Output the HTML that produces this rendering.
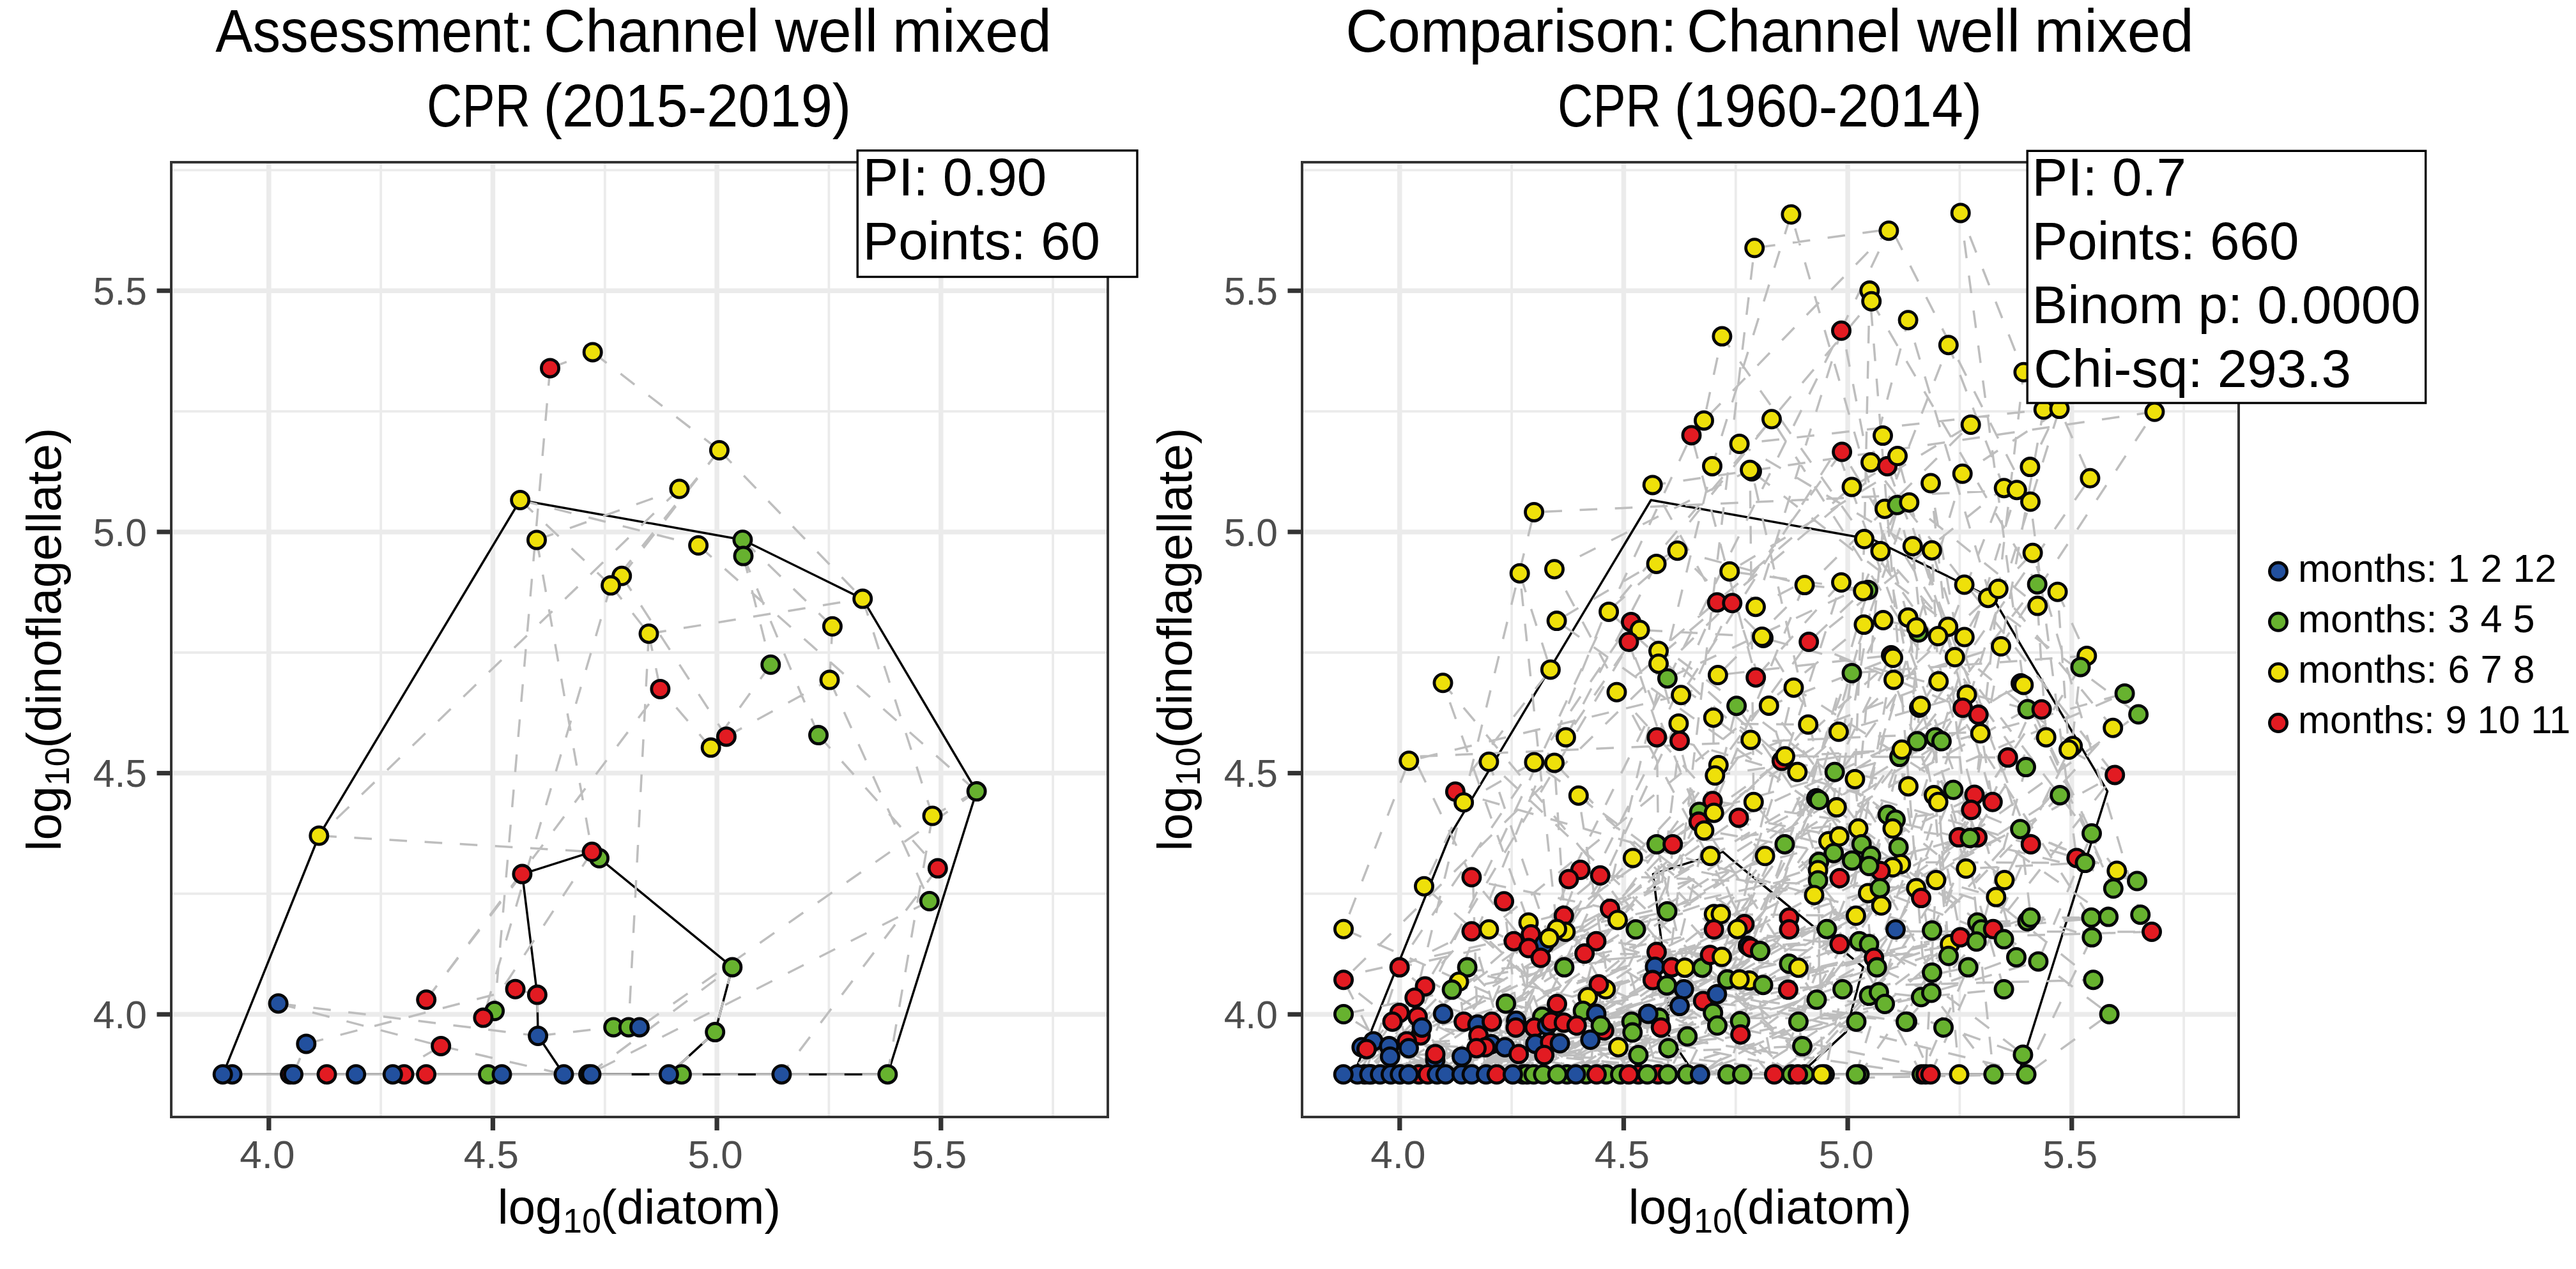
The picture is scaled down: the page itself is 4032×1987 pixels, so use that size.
<!DOCTYPE html>
<html><head><meta charset="utf-8"><title>Channel well mixed</title>
<style>html,body{margin:0;padding:0;background:#fff;} svg{display:block;} text{font-family:"Liberation Sans", sans-serif;}</style>
</head><body>
<svg width="4032" height="1987" viewBox="0 0 4032 1987">
<rect x="0" y="0" width="4032" height="1987" fill="#ffffff"/>
<g>
<line x1="596.12" y1="256" x2="596.12" y2="1747" stroke="#ebebeb" stroke-width="3.8"/>
<line x1="946.77" y1="256" x2="946.77" y2="1747" stroke="#ebebeb" stroke-width="3.8"/>
<line x1="1297.42" y1="256" x2="1297.42" y2="1747" stroke="#ebebeb" stroke-width="3.8"/>
<line x1="1648.07" y1="256" x2="1648.07" y2="1747" stroke="#ebebeb" stroke-width="3.8"/>
<line x1="270" y1="1399.45" x2="1732" y2="1399.45" stroke="#ebebeb" stroke-width="3.8"/>
<line x1="270" y1="1021.75" x2="1732" y2="1021.75" stroke="#ebebeb" stroke-width="3.8"/>
<line x1="270" y1="644.05" x2="1732" y2="644.05" stroke="#ebebeb" stroke-width="3.8"/>
<line x1="270" y1="266.35" x2="1732" y2="266.35" stroke="#ebebeb" stroke-width="3.8"/>
<line x1="420.80" y1="256" x2="420.80" y2="1747" stroke="#ebebeb" stroke-width="7.5"/>
<line x1="771.45" y1="256" x2="771.45" y2="1747" stroke="#ebebeb" stroke-width="7.5"/>
<line x1="1122.10" y1="256" x2="1122.10" y2="1747" stroke="#ebebeb" stroke-width="7.5"/>
<line x1="1472.75" y1="256" x2="1472.75" y2="1747" stroke="#ebebeb" stroke-width="7.5"/>
<line x1="270" y1="1588.30" x2="1732" y2="1588.30" stroke="#ebebeb" stroke-width="7.5"/>
<line x1="270" y1="1210.60" x2="1732" y2="1210.60" stroke="#ebebeb" stroke-width="7.5"/>
<line x1="270" y1="832.90" x2="1732" y2="832.90" stroke="#ebebeb" stroke-width="7.5"/>
<line x1="270" y1="455.20" x2="1732" y2="455.20" stroke="#ebebeb" stroke-width="7.5"/>
</g>
<polygon points="349.0,1682.2 499.3,1308.5 814.2,783.0 1162.4,845.2 1350.2,937.6 1528.6,1239.1 1389.3,1682.2" fill="none" stroke="#000000" stroke-width="3.5" stroke-linejoin="round"/>
<polygon points="882.5,1682.2 842.1,1622.0 840.9,1557.6 817.4,1368.6 926.6,1333.8 938.0,1343.8 1146.3,1514.4 1119.2,1616.1 1046.9,1682.2" fill="none" stroke="#000000" stroke-width="3.5" stroke-linejoin="round"/>
<path d="M861.0 576.4L927.7 551.4M927.7 551.4L1125.9 705.0M861.0 576.4L774.1 1583.0M814.2 783.0L1093.1 854.0M840.0 845.4L1063.4 765.5M1063.4 765.5L499.3 1308.5M1125.9 705.0L956.1 916.6M499.3 1308.5L926.6 1333.8M1093.1 854.0L1528.6 1239.1M1163.5 870.6L1206.3 1040.8M1015.5 992.2L1350.2 937.6M956.1 916.6L1015.5 992.2M1015.5 992.2L1033.4 1078.9M1125.9 705.0L1350.2 937.6M973.2 901.8L1125.9 705.0M435.6 1571.2L842.1 1622.0M479.3 1634.4L806.6 1548.7M667.2 1565.3L1033.4 1078.9M926.6 1333.8L756.4 1593.6M840.0 845.4L926.6 1333.8M956.1 916.6L756.4 1593.6M1015.5 992.2L983.9 1608.4M973.2 901.8L1136.9 1153.4M842.1 1622.0L960.2 1608.4M690.2 1637.9L882.5 1682.2M921.0 1682.2L1146.3 1514.4M459.0 1682.2L479.3 1634.4M614.8 1682.2L690.2 1637.9M1136.9 1153.4L1298.5 1064.6M1281.0 1151.1L1467.8 1359.6M1528.6 1239.1L1459.5 1277.5M1163.5 870.6L1281.0 1151.1M1162.4 845.2L1302.9 980.8M1302.9 980.8L1298.5 1064.6M1206.3 1040.8L1112.7 1170.6M1112.7 1170.6L1033.4 1078.9M1459.5 1277.5L1389.3 1682.2M1467.8 1359.6L1223.4 1682.2M1528.6 1239.1L1001.0 1608.4M1454.8 1411.0L921.0 1682.2M814.2 783.0L956.1 916.6M960.2 1608.4L983.9 1608.4M983.9 1608.4L1001.0 1608.4M806.6 1548.7L840.9 1557.6M840.9 1557.6L842.1 1622.0M1146.3 1514.4L1119.2 1616.1M1119.2 1616.1L1046.9 1682.2M774.1 1583.0L756.4 1593.6M817.4 1368.6L667.2 1565.3M1350.2 937.6L1459.5 1277.5M1298.5 1064.6L1454.8 1411.0M435.6 1571.2L690.2 1637.9" fill="none" stroke="#bebebe" stroke-width="3.5" stroke-dasharray="27.6 27.6"/>
<path d="M349 1682.2L988.7 1682.2" fill="none" stroke="#bebebe" stroke-width="3.5"/>
<path d="M1016.5 1682.2L1389.3 1682.2" fill="none" stroke="#bebebe" stroke-width="3.5" stroke-dasharray="27.75 27.75"/>
<g stroke="#050608" stroke-width="4.8">
<circle cx="861.0" cy="576.4" r="13.6" fill="#e21b22"/>
<circle cx="927.7" cy="551.4" r="13.6" fill="#eee00a"/>
<circle cx="1125.9" cy="705.0" r="13.6" fill="#eee00a"/>
<circle cx="1063.4" cy="765.5" r="13.6" fill="#eee00a"/>
<circle cx="814.2" cy="783.0" r="13.6" fill="#eee00a"/>
<circle cx="840.0" cy="845.4" r="13.6" fill="#eee00a"/>
<circle cx="1093.1" cy="854.0" r="13.6" fill="#eee00a"/>
<circle cx="1162.4" cy="845.2" r="13.6" fill="#67b22f"/>
<circle cx="1163.5" cy="870.6" r="13.6" fill="#67b22f"/>
<circle cx="973.2" cy="901.8" r="13.6" fill="#eee00a"/>
<circle cx="956.1" cy="916.6" r="13.6" fill="#eee00a"/>
<circle cx="1350.2" cy="937.6" r="13.6" fill="#eee00a"/>
<circle cx="1302.9" cy="980.8" r="13.6" fill="#eee00a"/>
<circle cx="1015.5" cy="992.2" r="13.6" fill="#eee00a"/>
<circle cx="1206.3" cy="1040.8" r="13.6" fill="#67b22f"/>
<circle cx="1298.5" cy="1064.6" r="13.6" fill="#eee00a"/>
<circle cx="1033.4" cy="1078.9" r="13.6" fill="#e21b22"/>
<circle cx="1136.9" cy="1153.4" r="13.6" fill="#e21b22"/>
<circle cx="1112.7" cy="1170.6" r="13.6" fill="#eee00a"/>
<circle cx="1281.0" cy="1151.1" r="13.6" fill="#67b22f"/>
<circle cx="1528.6" cy="1239.1" r="13.6" fill="#67b22f"/>
<circle cx="1459.5" cy="1277.5" r="13.6" fill="#eee00a"/>
<circle cx="499.3" cy="1308.5" r="13.6" fill="#eee00a"/>
<circle cx="938.0" cy="1343.8" r="13.6" fill="#67b22f"/>
<circle cx="926.6" cy="1333.8" r="13.6" fill="#e21b22"/>
<circle cx="817.4" cy="1368.6" r="13.6" fill="#e21b22"/>
<circle cx="1467.8" cy="1359.6" r="13.6" fill="#e21b22"/>
<circle cx="1454.8" cy="1411.0" r="13.6" fill="#67b22f"/>
<circle cx="1146.3" cy="1514.4" r="13.6" fill="#67b22f"/>
<circle cx="435.6" cy="1571.2" r="13.6" fill="#22509e"/>
<circle cx="667.2" cy="1565.3" r="13.6" fill="#e21b22"/>
<circle cx="806.6" cy="1548.7" r="13.6" fill="#e21b22"/>
<circle cx="840.9" cy="1557.6" r="13.6" fill="#e21b22"/>
<circle cx="774.1" cy="1583.0" r="13.6" fill="#67b22f"/>
<circle cx="756.4" cy="1593.6" r="13.6" fill="#e21b22"/>
<circle cx="479.3" cy="1634.4" r="13.6" fill="#22509e"/>
<circle cx="690.2" cy="1637.9" r="13.6" fill="#e21b22"/>
<circle cx="842.1" cy="1622.0" r="13.6" fill="#22509e"/>
<circle cx="960.2" cy="1608.4" r="13.6" fill="#67b22f"/>
<circle cx="983.9" cy="1608.4" r="13.6" fill="#67b22f"/>
<circle cx="1001.0" cy="1608.4" r="13.6" fill="#22509e"/>
<circle cx="1119.2" cy="1616.1" r="13.6" fill="#67b22f"/>
<circle cx="363.5" cy="1682.2" r="13.6" fill="#22509e"/>
<circle cx="348.7" cy="1682.2" r="13.6" fill="#22509e"/>
<circle cx="454.0" cy="1682.2" r="13.6" fill="#e21b22"/>
<circle cx="459.0" cy="1682.2" r="13.6" fill="#22509e"/>
<circle cx="511.5" cy="1682.2" r="13.6" fill="#e21b22"/>
<circle cx="557.2" cy="1682.2" r="13.6" fill="#22509e"/>
<circle cx="632.5" cy="1682.2" r="13.6" fill="#e21b22"/>
<circle cx="614.8" cy="1682.2" r="13.6" fill="#22509e"/>
<circle cx="667.1" cy="1682.2" r="13.6" fill="#e21b22"/>
<circle cx="764.1" cy="1682.2" r="13.6" fill="#67b22f"/>
<circle cx="785.5" cy="1682.2" r="13.6" fill="#22509e"/>
<circle cx="882.5" cy="1682.2" r="13.6" fill="#22509e"/>
<circle cx="921.0" cy="1682.2" r="13.6" fill="#22509e"/>
<circle cx="925.5" cy="1682.2" r="13.6" fill="#22509e"/>
<circle cx="1067.0" cy="1682.2" r="13.6" fill="#67b22f"/>
<circle cx="1046.9" cy="1682.2" r="13.6" fill="#22509e"/>
<circle cx="1223.4" cy="1682.2" r="13.6" fill="#22509e"/>
<circle cx="1389.3" cy="1682.2" r="13.6" fill="#67b22f"/>
</g>
<rect x="268" y="254" width="1466" height="1495" fill="none" stroke="#333333" stroke-width="4"/>
<line x1="420.80" y1="1751" x2="420.80" y2="1770" stroke="#333333" stroke-width="7.3"/>
<text x="418.30" y="1828.7"  font-size="62" fill="#4d4d4d" text-anchor="middle">4.0</text>
<line x1="771.45" y1="1751" x2="771.45" y2="1770" stroke="#333333" stroke-width="7.3"/>
<text x="768.95" y="1828.7"  font-size="62" fill="#4d4d4d" text-anchor="middle">4.5</text>
<line x1="1122.10" y1="1751" x2="1122.10" y2="1770" stroke="#333333" stroke-width="7.3"/>
<text x="1119.60" y="1828.7"  font-size="62" fill="#4d4d4d" text-anchor="middle">5.0</text>
<line x1="1472.75" y1="1751" x2="1472.75" y2="1770" stroke="#333333" stroke-width="7.3"/>
<text x="1470.25" y="1828.7"  font-size="62" fill="#4d4d4d" text-anchor="middle">5.5</text>
<line x1="245.5" y1="1588.30" x2="266" y2="1588.30" stroke="#333333" stroke-width="7.1"/>
<text transform="translate(145.66,1609.90) scale(0.9770,1)"  font-size="62" fill="#4d4d4d" >4.0</text>
<line x1="245.5" y1="1210.60" x2="266" y2="1210.60" stroke="#333333" stroke-width="7.1"/>
<text transform="translate(145.85,1232.20) scale(0.9770,1)"  font-size="62" fill="#4d4d4d" >4.5</text>
<line x1="245.5" y1="832.90" x2="266" y2="832.90" stroke="#333333" stroke-width="7.1"/>
<text transform="translate(145.66,854.50) scale(0.9770,1)"  font-size="62" fill="#4d4d4d" >5.0</text>
<line x1="245.5" y1="455.20" x2="266" y2="455.20" stroke="#333333" stroke-width="7.1"/>
<text transform="translate(145.85,476.80) scale(0.9770,1)"  font-size="62" fill="#4d4d4d" >5.5</text>
<text x="778.80" y="1916.1"  font-size="76" fill="#000000">log</text>
<text x="880.90" y="1929.7"  font-size="54" fill="#000000">10</text>
<text transform="translate(939.73,1916.10) scale(1.0132,1)"  font-size="76" fill="#000000" >(diatom)</text>
<g transform="translate(94.7,1327.4) rotate(-90)">
<text x="-5.1" y="0"  font-size="76" fill="#000000">log</text>
<text x="97" y="13.4"  font-size="54" fill="#000000">10</text>
<text transform="translate(155.96,0.00) scale(1.0065,1)"  font-size="76" fill="#000000" >(dinoflagellate)</text>
</g>
<g>
<line x1="2366.12" y1="256" x2="2366.12" y2="1747" stroke="#ebebeb" stroke-width="3.8"/>
<line x1="2716.78" y1="256" x2="2716.78" y2="1747" stroke="#ebebeb" stroke-width="3.8"/>
<line x1="3067.43" y1="256" x2="3067.43" y2="1747" stroke="#ebebeb" stroke-width="3.8"/>
<line x1="3418.07" y1="256" x2="3418.07" y2="1747" stroke="#ebebeb" stroke-width="3.8"/>
<line x1="2040" y1="1399.45" x2="3502" y2="1399.45" stroke="#ebebeb" stroke-width="3.8"/>
<line x1="2040" y1="1021.75" x2="3502" y2="1021.75" stroke="#ebebeb" stroke-width="3.8"/>
<line x1="2040" y1="644.05" x2="3502" y2="644.05" stroke="#ebebeb" stroke-width="3.8"/>
<line x1="2040" y1="266.35" x2="3502" y2="266.35" stroke="#ebebeb" stroke-width="3.8"/>
<line x1="2190.80" y1="256" x2="2190.80" y2="1747" stroke="#ebebeb" stroke-width="7.5"/>
<line x1="2541.45" y1="256" x2="2541.45" y2="1747" stroke="#ebebeb" stroke-width="7.5"/>
<line x1="2892.10" y1="256" x2="2892.10" y2="1747" stroke="#ebebeb" stroke-width="7.5"/>
<line x1="3242.75" y1="256" x2="3242.75" y2="1747" stroke="#ebebeb" stroke-width="7.5"/>
<line x1="2040" y1="1588.30" x2="3502" y2="1588.30" stroke="#ebebeb" stroke-width="7.5"/>
<line x1="2040" y1="1210.60" x2="3502" y2="1210.60" stroke="#ebebeb" stroke-width="7.5"/>
<line x1="2040" y1="832.90" x2="3502" y2="832.90" stroke="#ebebeb" stroke-width="7.5"/>
<line x1="2040" y1="455.20" x2="3502" y2="455.20" stroke="#ebebeb" stroke-width="7.5"/>
</g>
<polygon points="2119.0,1682.2 2269.3,1308.5 2584.2,783.0 2932.4,845.2 3120.2,937.6 3298.6,1239.1 3159.3,1682.2" fill="none" stroke="#000000" stroke-width="3.5" stroke-linejoin="round"/>
<polygon points="2652.5,1682.2 2612.1,1622.0 2610.9,1557.6 2587.4,1368.6 2696.6,1333.8 2708.0,1343.8 2916.3,1514.4 2889.2,1616.1 2816.9,1682.2" fill="none" stroke="#000000" stroke-width="3.5" stroke-linejoin="round"/>
<path d="M2109.9 1682.3L2192.9 1675.1L2900.8 1605.3L2900.1 1595.0L2414.0 1592.0L2103.0 1454.7L2205.3 1191.3L2631.1 1088.3L2875.3 703.7L3095.1 1311.1L2190.8 1514.6L2136.4 1682.3L2096.0 1682.3L2104.8 1682.3L2400.5 1682.3L2505.6 1605.8L2658.7 1278.3L2596.0 1039.2L2596.0 1019.2L2898.5 762.4L2954.0 730.0L3178.7 1321.9L3021.7 1682.3L2985.0 1599.7L2628.1 1565.6L2687.3 1556.7L3042.0 1608.9L2973.1 1185.1L3325.6 1085.9L2987.0 1231.2L3372.4 644.8L2586.7 759.4L2687.7 943.2L2593.3 1154.4L2599.8 1608.9L2522.4 1682.3L2691.9 1554.5L2843.0 1250.0L2913.8 1321.9L3024.0 1522.9L2925.5 1478.3L2744.8 1255.8L2739.1 735.8L2433.0 891.2L2730.4 1447.0L2777.0 1682.3L2179.5 1599.7L2123.7 1682.3L2191.2 1682.3L2249.2 1682.3L2831.7 1689.1L3171.6 1682.3L3301.6 1588.0L2681.8 1123.7L2682.7 1272.7L2878.8 1309.6L2586.8 1534.6L2426.3 1632.0L2369.4 1473.7L2421.3 1682.3L2394.8 1682.3L2736.0 1481.0L2634.2 1688.5L3156.0 1498.9L2969.4 790.8L2947.0 682.1L3059.8 1029.0L3313.3 1363.5L3085.3 1268.1L2618.2 1321.9L2311.0 1641.2L2149.7 1630.4L2131.3 1639.7L2311.4 1682.3L2508.2 1688.9L2514.0 1682.3L2390.2 1682.3L2719.6 1454.7L2947.6 971.0L2999.6 982.5L2879.4 1375.0L2392.5 1484.5L2383.7 1682.3L2384.5 1682.3L2372.7 1682.3L2348.9 1682.3L2564.4 1652.0L2800.4 1509.0L3347.1 1118.5L3074.6 915.5L3111.8 936.2L2813.3 1208.8L2553.0 973.9L2190.1 1509.3L2504.5 1688.3L2540.6 1682.3L2410.3 1682.3L2678.8 1559.3L3172.3 1678.7L3274.3 1467.6L2870.2 1335.7L2667.4 1300.4L2826.3 909.6L2748.0 950.2L2882.0 517.8L2884.0 517.1L3069.4 1469.1L2685.0 1557.1L2349.1 1682.3L2435.4 1682.3L2937.8 1514.6L3022.9 1554.5L3120.3 1682.3L3022.0 756.5L3078.5 1087.7L2877.9 1145.8L2658.8 1286.6L2447.8 1433.8L2506.6 1539.5L2502.7 1583.7L2367.9 1682.3L2326.0 1682.3L2925.5 1356.0L3000.8 1160.6L3004.0 1108.0L2986.6 966.9L2803.4 335.8L2680.0 729.9L2467.8 1605.8L2334.9 1688.6L2372.5 1608.9L2325.0 1673.8L2837.3 1258.5L2745.2 1484.7L3050.0 1496.8L3029.0 1154.4L3038.9 1160.6L2684.3 1214.3L2627.4 1132.9L2830.2 1134.4L2782.8 1190.4L2480.1 1493.1L2676.6 1495.2L2498.5 1587.4L2488.4 1682.3L2498.6 1682.3L2596.7 1593.6L2298.3 1520.9L3350.2 1432.2L3181.6 865.8L3127.8 922.0L3307.2 1139.7L2814.1 1682.3L2502.5 1541.3L2427.8 1599.7L2421.7 1605.8L2332.5 1632.7L2376.4 1674.8L2415.4 1682.3L3178.6 1435.8L3162.1 1298.2L3023.8 861.7L3034.3 1066.8L2689.8 1198.0L2407.9 1501.6L2520.0 1423.0L2305.6 1378.5L2312.5 1606.6L2275.5 1682.3L2373.1 1598.2L3024.0 1457.0L3179.1 1112.3L2760.0 999.0L2625.6 862.2L2824.6 916.1L2916.2 925.5L2831.2 1005.0L2524.5 1425.0L2595.1 1682.3L2516.6 1682.3L2484.6 1682.3L2840.5 1251.4L2972.4 788.0L2916.6 918.3L2609.9 1062.2L2962.4 1297.3L2392.5 1444.5L2258.5 1069.3L2772.9 1685.6L3075.5 1460.8L2738.9 1485.4L2579.8 1587.4L2371.6 1682.3L2263.7 1682.3L2452.7 1682.3L2601.3 1587.6L2718.1 1105.2L2861.9 1317.3L2695.0 1498.3L2882.0 912.0L2748.2 1060.7L2647.5 681.4L2202.0 1630.4L2223.8 1682.3L2288.0 1654.4L2321.0 1676.1L3080.7 1514.6L3008.0 1682.3L2845.6 1378.4L2908.6 1297.3L2738.0 1535.2L2532.0 1440.5L2473.7 1362.0L2419.3 1506.2L2342.7 1682.3L2303.6 1682.3L2243.1 1682.3L2229.1 1682.3L2824.4 1682.3L2927.5 1562.6L3256.5 1044.4L3243.0 1165.9L3124.3 1404.6L3030.4 1378.0L3014.0 1682.3L2447.8 1601.2L2216.6 1682.7L2282.7 1682.3L2334.1 1635.0L2637.4 1551.2L3276.4 1534.2L2954.7 1275.8L2971.6 1326.5L2962.4 1358.0L2904.9 1433.8L2682.7 1431.3L2553.1 1681.8L2444.4 1603.7L2234.7 1682.3L2283.2 1658.8L2205.0 1641.2L2140.0 1627.8L2733.7 1682.7L2940.9 1553.6L3014.4 1561.6L2926.3 455.1L2918.0 844.0L2903.4 1219.9L2929.7 1495.6L2943.5 1364.0L2800.4 1436.8L2155.3 1636.3L2410.8 1632.1L2372.2 1682.3L3158.0 1298.1L3345.0 1379.5L2966.9 1286.6L2566.6 986.3L2758.0 997.0L2999.3 1390.7L2504.6 1370.8L2375.5 1476.8L2314.1 1621.2L2636.0 1579.1L2369.4 1673.1L2441.6 1633.5L2856.0 1682.3L2884.0 1549.0L2876.1 1547.0L2401.4 1193.4L2291.1 1256.4L2229.0 1387.7L2437.0 1572.0L2307.4 1451.1L2139.0 1642.7L2218.1 1608.5L2324.6 1682.3L2343.3 1634.7L2928.6 1340.3L2659.7 1271.2L2593.0 1321.9L2637.2 1515.2L2944.6 1417.8L2814.9 1515.2L2393.0 1456.6L2142.7 1674.5L2136.0 1682.3L2161.6 1682.3L2175.8 1654.4L2356.3 1643.4L2357.1 1571.4L2942.4 1390.7L2847.1 1252.8L2677.2 1340.3L2450.3 1459.0L2433.0 1194.4L2682.7 1455.3L2879.4 1478.3L2798.9 1549.6L2207.5 1682.3L2211.5 1682.3L2429.2 1682.3L3006.9 1561.3L3136.6 1549.0L3010.9 1107.3L3113.4 928.4L2986.6 501.2L2928.0 724.0L3309.9 1213.4L3119.7 1454.7L2131.8 1681.4L2172.5 1650.6L2237.9 1682.3L2635.7 1549.0L2950.1 1572.0L3095.1 1444.5L3300.1 1435.6L3027.0 1245.1L3066.5 1682.3L2485.3 1561.3L2593.0 1490.6L2508.5 1375.2L2324.9 1639.7L2287.3 1682.3L2273.6 1682.3L2182.2 1635.5L2723.6 1599.1L3173.5 1442.4L3136.6 1470.6L2436.6 972.1L2631.1 857.1L2512.3 960.8L2220.7 1682.3L2246.5 1650.4L2223.5 1621.2L2160.1 1682.3L2328.3 1677.9L2696.2 1547.3L2949.7 1396.6L2843.5 1565.3L2654.9 1274.1L3099.7 1148.3L3097.5 1146.2L2212.1 1184.8L2303.4 1373.5L2553.7 1678.8L2510.8 1613.5L2221.2 1682.3L2247.3 1682.3L2174.3 1638.1L2560.4 1455.3L2803.9 1682.3L2905.1 1682.3L3033.7 1255.8L2964.0 1064.4L3132.0 1012.0L3195.6 1110.8L3194.5 1110.4L2933.2 1499.8L2489.3 1628.0L2414.0 1605.2L2252.2 1682.3L2103.0 1588.0L2448.4 1514.6L2859.4 1454.7L3071.7 741.8L3218.8 645.5L3177.4 731.1L2832.0 1007.7L3072.1 1108.3L3099.9 1123.3L2225.5 1682.3L2238.1 1682.3L2255.8 1650.0L2569.4 1658.4L2727.0 1682.3L2910.5 1682.3L3052.1 1478.3L2768.8 1104.9L2963.0 1030.0L2886.4 1479.4L2713.3 937.9L2103.0 1534.2L2176.9 1682.3L2143.4 1682.3L2249.5 1660.9L2821.0 1638.1L2703.6 1533.6L2755.0 1489.1L2533.0 1639.7L2470.8 1245.7L2693.5 1431.3L2382.6 1677.2L2190.6 1514.6L2303.4 1458.3L2355.6 1639.7L2330.8 1682.3L2533.0 1682.3L2536.0 1682.3L3224.2 1245.1L2804.9 1679.3L2437.0 1454.7L2378.7 897.7L2426.9 1048.4L2277.9 1239.5L3068.4 1467.6L3368.0 1459.0L2966.3 1458.3L2967.0 1455.3L2660.9 1682.3L2814.9 1599.7L2975.2 1322.7L3003.0 990.3L2917.4 978.1L2330.4 1455.3L2513.3 1549.0L2616.6 1514.6L2335.0 1599.7L2214.2 1562.2L2454.7 1682.3L2476.7 1682.3L2627.2 1540.8L2688.0 1605.8L2759.6 1542.2L2681.2 1585.9L2762.6 1340.3L2530.5 1083.7L2970.0 714.0L3118.8 1255.8L3096.7 1119.1L3075.7 1101.4L2106.5 1682.3L2283.9 1682.3L2262.6 1682.3L2553.7 1599.7L2910.1 1473.7L2838.7 1565.9L2975.3 1353.0L3156.8 767.2L2401.1 801.9L2215.3 1562.7L2197.7 1584.6L2190.6 1585.9L2210.8 1682.3L2296.5 1682.3L2204.8 1682.3L2555.2 1616.6L2664.3 1515.2L2852.2 1685.5L2845.6 1362.5L3271.4 748.8L3223.5 640.1L3077.9 1106.0L2934.5 1498.5L2724.2 1619.7L2628.3 1548.1L2403.2 1634.4L2373.2 1682.3L2640.7 1682.3L2925.5 1559.1L3057.3 1236.8L2807.5 1076.7L2719.3 1449.7L2283.4 1537.3L2291.1 1599.7L2396.2 1463.0L2095.2 1530.3L2287.0 1681.6L2198.5 1682.3L2132.2 1682.3L2296.6 1514.6L2356.0 1576.5L3007.2 992.1L2993.7 855.2L2722.6 695.0L3198.7 641.3L3090.5 1244.5L3090.5 1246.9L2788.8 1191.3L2102.7 1682.3L2108.0 1682.3L2182.5 1673.0L2842.2 1254.7L2871.7 1208.8L2967.0 1283.5L2924.0 1398.4L2976.8 1173.8L2794.0 1184.2L3142.8 1186.1L3007.0 1406.1L3091.9 1246.6L2246.5 1659.6L2134.7 1678.5L2156.0 1675.8L2482.5 1682.3L2477.6 1582.8L2564.9 1647.5L3033.5 996.0L3244.2 1168.2L3137.5 1378.0L3065.9 1311.1L2680.6 1254.3L2400.4 1609.2L2457.7 1682.3L2526.3 1682.3L2474.9 1682.3L2892.0 1554.3L3166.4 1651.5L3159.5 1645.2L2839.5 1401.5L2555.8 1343.4L2722.7 1533.6L2498.5 1473.7L2194.4 1632.2L2218.9 1592.0L2404.9 1682.3L2287.8 1682.3L2225.6 1608.9L2272.6 1549.6L2501.5 1605.8L2609.0 1542.9L2746.2 388.3L2960.6 358.4L3178.0 785.5L3250.3 1343.4L2629.0 1160.0L2564.3 1682.3L2282.5 1682.3L2447.8 1624.8L2417.1 1478.3L2610.3 1434.8L2842.6 1357.6L3188.7 914.9L2929.2 471.7L2518.1 957.9L2740.2 1158.4L2618.3 1329.6L2568.2 1687.3L2311.7 1642.7L2124.7 1682.3L2184.9 1682.3L3163.0 1070.0L3307.8 1391.3L3173.5 1110.5L2609.6 1427.0L2424.8 1469.1L2330.4 1192.8L2851.3 1682.3L2446.2 1598.2L2424.0 1654.6L2417.1 1652.0L2222.5 1682.3L2228.6 1682.3L2294.2 1681.6L2437.7 1682.3L2704.0 1682.3L2924.0 923.8L2707.2 894.7L3084.7 665.0L2688.9 1057.0L2960.0 1026.0L2737.0 1479.3L2800.4 1455.3L2311.5 1606.9L2282.2 1647.1L2373.4 1682.3L2611.6 1431.8L2793.4 1321.9L2898.8 1347.4L2950.0 796.7L3049.8 540.2L3136.7 764.2L2783.9 1676.4L2549.5 1682.3L2499.0 1682.3L2514.0 1682.3L2466.6 1682.3L2128.5 1682.3L3178.1 1436.8L3273.4 1436.8L3273.5 1440.9L2773.0 656.3L2592.6 882.9L2450.9 1154.4L2547.7 1012.0L2230.5 1544.4L2146.0 1682.3L2093.5 1682.3L2295.2 1673.2L2629.4 1542.1L2905.5 1599.7L2809.0 1680.1L2898.5 1053.9L3266.3 1026.9L3220.6 926.7L3238.0 1173.8L3310.2 1213.4L2665.8 1567.4L2377.1 1650.4L2298.7 1682.3L2446.6 1624.9L2629.0 1575.1L2944.5 1395.9L3101.3 1455.3L3171.0 1201.1L2695.4 526.6L2667.0 658.4L2956.4 361.2L2877.7 524.9L2455.5 1376.5L2365.3 1604.0L2329.0 1627.0L2267.1 1682.3L2258.8 1587.4L2578.4 1682.3L3190.4 1505.4L3274.0 1305.0L3202.7 1154.4L3189.2 948.6L2988.3 786.7L2740.2 1483.8L2549.5 1005.0L2600.5 1158.1L2339.7 1682.3L2328.0 1682.3L2312.6 1604.3L3093.6 1474.3L2983.0 1599.7L3083.4 1312.1L3167.4 582.8L3068.7 333.4L3167.3 1072.4L2721.5 1280.4L2411.5 1499.8L2354.1 1411.3L2384.9 1682.3L2441.0 1682.3L2590.5 1513.7L2847.2 1559.3L2847.1 1349.6L3263.5 1351.1L3077.3 1360.0L3006.3 1105.2L3074.8 997.5L2742.0 738.0L2885.5 1367.6L3072.4 1311.9L2415.3 1682.3L2417.8 1682.3L2340.0 1643.3L2641.2 1622.8L2610.5 1682.3L2611.4 1641.2L2874.8 1264.1L2943.4 862.9L3049.2 981.4L2883.1 707.5L2711.3 944.3L2401.7 1608.9L2664.7 1682.3" fill="none" stroke="#bebebe" stroke-width="3.5" stroke-dasharray="27.6 27.6" stroke-linejoin="round"/>
<path d="M2103 1682.3L3120 1682.3" fill="none" stroke="#bebebe" stroke-width="3.5"/>
<g stroke="#050608" stroke-width="4.8">
<circle cx="2746.2" cy="388.3" r="13.6" fill="#eee00a"/>
<circle cx="2695.4" cy="526.6" r="13.6" fill="#eee00a"/>
<circle cx="2667.0" cy="658.4" r="13.6" fill="#eee00a"/>
<circle cx="2647.5" cy="681.4" r="13.6" fill="#e21b22"/>
<circle cx="2722.6" cy="695.0" r="13.6" fill="#eee00a"/>
<circle cx="2680.0" cy="729.9" r="13.6" fill="#eee00a"/>
<circle cx="2742.0" cy="738.0" r="13.6" fill="#e21b22"/>
<circle cx="2739.1" cy="735.8" r="13.6" fill="#eee00a"/>
<circle cx="2586.7" cy="759.4" r="13.6" fill="#eee00a"/>
<circle cx="2401.1" cy="801.9" r="13.6" fill="#eee00a"/>
<circle cx="2378.7" cy="897.7" r="13.6" fill="#eee00a"/>
<circle cx="2433.0" cy="891.2" r="13.6" fill="#eee00a"/>
<circle cx="2625.6" cy="862.2" r="13.6" fill="#eee00a"/>
<circle cx="2592.6" cy="882.9" r="13.6" fill="#eee00a"/>
<circle cx="2707.2" cy="894.7" r="13.6" fill="#eee00a"/>
<circle cx="2687.7" cy="943.2" r="13.6" fill="#e21b22"/>
<circle cx="2711.3" cy="944.3" r="13.6" fill="#e21b22"/>
<circle cx="2748.0" cy="950.2" r="13.6" fill="#eee00a"/>
<circle cx="2436.6" cy="972.1" r="13.6" fill="#eee00a"/>
<circle cx="2518.1" cy="957.9" r="13.6" fill="#eee00a"/>
<circle cx="2553.0" cy="973.9" r="13.6" fill="#e21b22"/>
<circle cx="2566.6" cy="986.3" r="13.6" fill="#eee00a"/>
<circle cx="2549.5" cy="1005.0" r="13.6" fill="#e21b22"/>
<circle cx="2760.0" cy="999.0" r="13.6" fill="#67b22f"/>
<circle cx="2758.0" cy="997.0" r="13.6" fill="#eee00a"/>
<circle cx="2803.4" cy="335.8" r="13.6" fill="#eee00a"/>
<circle cx="2956.4" cy="361.2" r="13.6" fill="#eee00a"/>
<circle cx="3068.7" cy="333.4" r="13.6" fill="#eee00a"/>
<circle cx="2926.3" cy="455.1" r="13.6" fill="#eee00a"/>
<circle cx="2929.2" cy="471.7" r="13.6" fill="#eee00a"/>
<circle cx="2986.6" cy="501.2" r="13.6" fill="#eee00a"/>
<circle cx="2882.0" cy="517.8" r="13.6" fill="#e21b22"/>
<circle cx="3049.8" cy="540.2" r="13.6" fill="#eee00a"/>
<circle cx="3167.4" cy="582.8" r="13.6" fill="#eee00a"/>
<circle cx="2773.0" cy="656.3" r="13.6" fill="#eee00a"/>
<circle cx="3084.7" cy="665.0" r="13.6" fill="#eee00a"/>
<circle cx="3198.7" cy="641.3" r="13.6" fill="#eee00a"/>
<circle cx="3223.5" cy="640.1" r="13.6" fill="#eee00a"/>
<circle cx="3372.4" cy="644.8" r="13.6" fill="#eee00a"/>
<circle cx="2947.0" cy="682.1" r="13.6" fill="#eee00a"/>
<circle cx="2883.1" cy="707.5" r="13.6" fill="#e21b22"/>
<circle cx="2928.0" cy="724.0" r="13.6" fill="#eee00a"/>
<circle cx="2954.0" cy="730.0" r="13.6" fill="#e21b22"/>
<circle cx="2970.0" cy="714.0" r="13.6" fill="#eee00a"/>
<circle cx="2898.5" cy="762.4" r="13.6" fill="#eee00a"/>
<circle cx="3022.0" cy="756.5" r="13.6" fill="#eee00a"/>
<circle cx="3071.7" cy="741.8" r="13.6" fill="#eee00a"/>
<circle cx="3177.4" cy="731.1" r="13.6" fill="#eee00a"/>
<circle cx="3136.7" cy="764.2" r="13.6" fill="#eee00a"/>
<circle cx="3156.8" cy="767.2" r="13.6" fill="#eee00a"/>
<circle cx="3178.0" cy="785.5" r="13.6" fill="#eee00a"/>
<circle cx="3271.4" cy="748.8" r="13.6" fill="#eee00a"/>
<circle cx="2950.0" cy="796.7" r="13.6" fill="#eee00a"/>
<circle cx="2969.4" cy="790.8" r="13.6" fill="#67b22f"/>
<circle cx="2988.3" cy="786.7" r="13.6" fill="#eee00a"/>
<circle cx="2918.0" cy="844.0" r="13.6" fill="#eee00a"/>
<circle cx="2943.4" cy="862.9" r="13.6" fill="#eee00a"/>
<circle cx="2993.7" cy="855.2" r="13.6" fill="#eee00a"/>
<circle cx="3023.8" cy="861.7" r="13.6" fill="#eee00a"/>
<circle cx="3181.6" cy="865.8" r="13.6" fill="#eee00a"/>
<circle cx="2824.6" cy="916.1" r="13.6" fill="#eee00a"/>
<circle cx="2882.0" cy="912.0" r="13.6" fill="#eee00a"/>
<circle cx="2924.0" cy="923.8" r="13.6" fill="#67b22f"/>
<circle cx="2916.2" cy="925.5" r="13.6" fill="#eee00a"/>
<circle cx="3074.6" cy="915.5" r="13.6" fill="#eee00a"/>
<circle cx="3111.8" cy="936.2" r="13.6" fill="#eee00a"/>
<circle cx="3127.8" cy="922.0" r="13.6" fill="#eee00a"/>
<circle cx="3188.7" cy="914.9" r="13.6" fill="#67b22f"/>
<circle cx="3220.6" cy="926.7" r="13.6" fill="#eee00a"/>
<circle cx="3189.2" cy="948.6" r="13.6" fill="#eee00a"/>
<circle cx="2917.4" cy="978.1" r="13.6" fill="#eee00a"/>
<circle cx="2947.6" cy="971.0" r="13.6" fill="#eee00a"/>
<circle cx="2986.6" cy="966.9" r="13.6" fill="#eee00a"/>
<circle cx="3003.0" cy="990.3" r="13.6" fill="#67b22f"/>
<circle cx="2999.6" cy="982.5" r="13.6" fill="#eee00a"/>
<circle cx="3049.2" cy="981.4" r="13.6" fill="#eee00a"/>
<circle cx="3033.5" cy="996.0" r="13.6" fill="#eee00a"/>
<circle cx="3074.8" cy="997.5" r="13.6" fill="#eee00a"/>
<circle cx="2831.2" cy="1005.0" r="13.6" fill="#e21b22"/>
<circle cx="3132.0" cy="1012.0" r="13.6" fill="#eee00a"/>
<circle cx="2960.0" cy="1026.0" r="13.6" fill="#e21b22"/>
<circle cx="2963.0" cy="1030.0" r="13.6" fill="#eee00a"/>
<circle cx="3059.8" cy="1029.0" r="13.6" fill="#eee00a"/>
<circle cx="3266.3" cy="1026.9" r="13.6" fill="#eee00a"/>
<circle cx="2258.5" cy="1069.3" r="13.6" fill="#eee00a"/>
<circle cx="2426.9" cy="1048.4" r="13.6" fill="#eee00a"/>
<circle cx="2530.5" cy="1083.7" r="13.6" fill="#eee00a"/>
<circle cx="2450.9" cy="1154.4" r="13.6" fill="#eee00a"/>
<circle cx="2205.3" cy="1191.3" r="13.6" fill="#eee00a"/>
<circle cx="2330.4" cy="1192.8" r="13.6" fill="#eee00a"/>
<circle cx="2401.4" cy="1193.4" r="13.6" fill="#eee00a"/>
<circle cx="2433.0" cy="1194.4" r="13.6" fill="#eee00a"/>
<circle cx="2277.9" cy="1239.5" r="13.6" fill="#e21b22"/>
<circle cx="2291.1" cy="1256.4" r="13.6" fill="#eee00a"/>
<circle cx="2470.8" cy="1245.7" r="13.6" fill="#eee00a"/>
<circle cx="2303.4" cy="1373.5" r="13.6" fill="#e21b22"/>
<circle cx="2473.7" cy="1362.0" r="13.6" fill="#e21b22"/>
<circle cx="2504.6" cy="1370.8" r="13.6" fill="#e21b22"/>
<circle cx="2455.5" cy="1376.5" r="13.6" fill="#e21b22"/>
<circle cx="2229.0" cy="1387.7" r="13.6" fill="#eee00a"/>
<circle cx="2596.0" cy="1019.2" r="13.6" fill="#eee00a"/>
<circle cx="2596.0" cy="1039.2" r="13.6" fill="#eee00a"/>
<circle cx="2609.9" cy="1062.2" r="13.6" fill="#67b22f"/>
<circle cx="2631.1" cy="1088.3" r="13.6" fill="#eee00a"/>
<circle cx="2688.9" cy="1057.0" r="13.6" fill="#eee00a"/>
<circle cx="2748.2" cy="1060.7" r="13.6" fill="#e21b22"/>
<circle cx="2807.5" cy="1076.7" r="13.6" fill="#eee00a"/>
<circle cx="2898.5" cy="1053.9" r="13.6" fill="#67b22f"/>
<circle cx="2964.0" cy="1064.4" r="13.6" fill="#eee00a"/>
<circle cx="2718.1" cy="1105.2" r="13.6" fill="#67b22f"/>
<circle cx="2768.8" cy="1104.9" r="13.6" fill="#eee00a"/>
<circle cx="2681.8" cy="1123.7" r="13.6" fill="#eee00a"/>
<circle cx="2627.4" cy="1132.9" r="13.6" fill="#eee00a"/>
<circle cx="2593.3" cy="1154.4" r="13.6" fill="#e21b22"/>
<circle cx="2629.0" cy="1160.0" r="13.6" fill="#e21b22"/>
<circle cx="2830.2" cy="1134.4" r="13.6" fill="#eee00a"/>
<circle cx="2877.9" cy="1145.8" r="13.6" fill="#eee00a"/>
<circle cx="3004.0" cy="1108.0" r="13.6" fill="#67b22f"/>
<circle cx="3006.3" cy="1105.2" r="13.6" fill="#eee00a"/>
<circle cx="2740.2" cy="1158.4" r="13.6" fill="#eee00a"/>
<circle cx="2689.8" cy="1198.0" r="13.6" fill="#eee00a"/>
<circle cx="2684.3" cy="1214.3" r="13.6" fill="#eee00a"/>
<circle cx="2788.8" cy="1191.3" r="13.6" fill="#e21b22"/>
<circle cx="2794.0" cy="1184.2" r="13.6" fill="#eee00a"/>
<circle cx="2813.3" cy="1208.8" r="13.6" fill="#eee00a"/>
<circle cx="2871.7" cy="1208.8" r="13.6" fill="#67b22f"/>
<circle cx="2903.4" cy="1219.9" r="13.6" fill="#eee00a"/>
<circle cx="3000.8" cy="1160.6" r="13.6" fill="#67b22f"/>
<circle cx="2973.1" cy="1185.1" r="13.6" fill="#67b22f"/>
<circle cx="2976.8" cy="1173.8" r="13.6" fill="#eee00a"/>
<circle cx="2987.0" cy="1231.2" r="13.6" fill="#eee00a"/>
<circle cx="3027.0" cy="1245.1" r="13.6" fill="#eee00a"/>
<circle cx="2680.6" cy="1254.3" r="13.6" fill="#e21b22"/>
<circle cx="2659.7" cy="1271.2" r="13.6" fill="#67b22f"/>
<circle cx="2682.7" cy="1272.7" r="13.6" fill="#eee00a"/>
<circle cx="2658.8" cy="1286.6" r="13.6" fill="#e21b22"/>
<circle cx="2667.4" cy="1300.4" r="13.6" fill="#eee00a"/>
<circle cx="2721.5" cy="1280.4" r="13.6" fill="#e21b22"/>
<circle cx="2744.8" cy="1255.8" r="13.6" fill="#eee00a"/>
<circle cx="2843.0" cy="1250.0" r="13.6" fill="#22509e"/>
<circle cx="2847.1" cy="1252.8" r="13.6" fill="#67b22f"/>
<circle cx="2874.8" cy="1264.1" r="13.6" fill="#eee00a"/>
<circle cx="2954.7" cy="1275.8" r="13.6" fill="#67b22f"/>
<circle cx="2967.0" cy="1283.5" r="13.6" fill="#67b22f"/>
<circle cx="2962.4" cy="1297.3" r="13.6" fill="#eee00a"/>
<circle cx="2971.6" cy="1326.5" r="13.6" fill="#67b22f"/>
<circle cx="2975.3" cy="1353.0" r="13.6" fill="#eee00a"/>
<circle cx="2962.4" cy="1358.0" r="13.6" fill="#eee00a"/>
<circle cx="2943.5" cy="1364.0" r="13.6" fill="#e21b22"/>
<circle cx="2593.0" cy="1321.9" r="13.6" fill="#67b22f"/>
<circle cx="2618.2" cy="1321.9" r="13.6" fill="#e21b22"/>
<circle cx="2555.8" cy="1343.4" r="13.6" fill="#eee00a"/>
<circle cx="2677.2" cy="1340.3" r="13.6" fill="#eee00a"/>
<circle cx="2762.6" cy="1340.3" r="13.6" fill="#eee00a"/>
<circle cx="2793.4" cy="1321.9" r="13.6" fill="#67b22f"/>
<circle cx="2908.6" cy="1297.3" r="13.6" fill="#eee00a"/>
<circle cx="2861.9" cy="1317.3" r="13.6" fill="#eee00a"/>
<circle cx="2878.8" cy="1309.6" r="13.6" fill="#eee00a"/>
<circle cx="2870.2" cy="1335.7" r="13.6" fill="#67b22f"/>
<circle cx="2913.8" cy="1321.9" r="13.6" fill="#67b22f"/>
<circle cx="2898.8" cy="1347.4" r="13.6" fill="#67b22f"/>
<circle cx="2928.6" cy="1340.3" r="13.6" fill="#67b22f"/>
<circle cx="2925.5" cy="1356.0" r="13.6" fill="#67b22f"/>
<circle cx="2847.1" cy="1349.6" r="13.6" fill="#67b22f"/>
<circle cx="2845.6" cy="1362.5" r="13.6" fill="#eee00a"/>
<circle cx="2879.4" cy="1375.0" r="13.6" fill="#e21b22"/>
<circle cx="3034.3" cy="1066.8" r="13.6" fill="#eee00a"/>
<circle cx="3078.5" cy="1087.7" r="13.6" fill="#eee00a"/>
<circle cx="3072.1" cy="1108.3" r="13.6" fill="#e21b22"/>
<circle cx="3096.7" cy="1119.1" r="13.6" fill="#e21b22"/>
<circle cx="3099.7" cy="1148.3" r="13.6" fill="#eee00a"/>
<circle cx="3029.0" cy="1154.4" r="13.6" fill="#67b22f"/>
<circle cx="3038.9" cy="1160.6" r="13.6" fill="#67b22f"/>
<circle cx="3163.0" cy="1070.0" r="13.6" fill="#22509e"/>
<circle cx="3167.3" cy="1072.4" r="13.6" fill="#eee00a"/>
<circle cx="3173.5" cy="1110.5" r="13.6" fill="#67b22f"/>
<circle cx="3195.6" cy="1110.8" r="13.6" fill="#e21b22"/>
<circle cx="3202.7" cy="1154.4" r="13.6" fill="#eee00a"/>
<circle cx="3244.2" cy="1168.2" r="13.6" fill="#eee00a"/>
<circle cx="3238.0" cy="1173.8" r="13.6" fill="#eee00a"/>
<circle cx="3142.8" cy="1186.1" r="13.6" fill="#e21b22"/>
<circle cx="3171.0" cy="1201.1" r="13.6" fill="#67b22f"/>
<circle cx="3256.5" cy="1044.4" r="13.6" fill="#67b22f"/>
<circle cx="3325.6" cy="1085.9" r="13.6" fill="#67b22f"/>
<circle cx="3347.1" cy="1118.5" r="13.6" fill="#67b22f"/>
<circle cx="3307.2" cy="1139.7" r="13.6" fill="#eee00a"/>
<circle cx="3310.2" cy="1213.4" r="13.6" fill="#e21b22"/>
<circle cx="3033.7" cy="1255.8" r="13.6" fill="#eee00a"/>
<circle cx="3057.3" cy="1236.8" r="13.6" fill="#67b22f"/>
<circle cx="3090.5" cy="1244.5" r="13.6" fill="#e21b22"/>
<circle cx="3118.8" cy="1255.8" r="13.6" fill="#e21b22"/>
<circle cx="3085.3" cy="1268.1" r="13.6" fill="#e21b22"/>
<circle cx="3224.2" cy="1245.1" r="13.6" fill="#67b22f"/>
<circle cx="3162.1" cy="1298.2" r="13.6" fill="#67b22f"/>
<circle cx="3178.7" cy="1321.9" r="13.6" fill="#e21b22"/>
<circle cx="3065.9" cy="1311.1" r="13.6" fill="#e21b22"/>
<circle cx="3095.1" cy="1311.1" r="13.6" fill="#e21b22"/>
<circle cx="3083.4" cy="1312.1" r="13.6" fill="#67b22f"/>
<circle cx="3274.0" cy="1305.0" r="13.6" fill="#67b22f"/>
<circle cx="3250.3" cy="1343.4" r="13.6" fill="#e21b22"/>
<circle cx="3263.5" cy="1351.1" r="13.6" fill="#67b22f"/>
<circle cx="3077.3" cy="1360.0" r="13.6" fill="#eee00a"/>
<circle cx="3030.4" cy="1378.0" r="13.6" fill="#eee00a"/>
<circle cx="3137.5" cy="1378.0" r="13.6" fill="#eee00a"/>
<circle cx="3313.3" cy="1363.5" r="13.6" fill="#eee00a"/>
<circle cx="3345.0" cy="1379.5" r="13.6" fill="#67b22f"/>
<circle cx="2354.1" cy="1411.3" r="13.6" fill="#e21b22"/>
<circle cx="2520.0" cy="1423.0" r="13.6" fill="#e21b22"/>
<circle cx="2532.0" cy="1440.5" r="13.6" fill="#eee00a"/>
<circle cx="2103.0" cy="1454.7" r="13.6" fill="#eee00a"/>
<circle cx="2303.4" cy="1458.3" r="13.6" fill="#e21b22"/>
<circle cx="2330.4" cy="1455.3" r="13.6" fill="#eee00a"/>
<circle cx="2392.5" cy="1444.5" r="13.6" fill="#eee00a"/>
<circle cx="2447.8" cy="1433.8" r="13.6" fill="#e21b22"/>
<circle cx="2450.3" cy="1459.0" r="13.6" fill="#eee00a"/>
<circle cx="2437.0" cy="1454.7" r="13.6" fill="#eee00a"/>
<circle cx="2369.4" cy="1473.7" r="13.6" fill="#e21b22"/>
<circle cx="2396.2" cy="1463.0" r="13.6" fill="#e21b22"/>
<circle cx="2417.1" cy="1478.3" r="13.6" fill="#22509e"/>
<circle cx="2424.8" cy="1469.1" r="13.6" fill="#eee00a"/>
<circle cx="2392.5" cy="1484.5" r="13.6" fill="#e21b22"/>
<circle cx="2411.5" cy="1499.8" r="13.6" fill="#e21b22"/>
<circle cx="2498.5" cy="1473.7" r="13.6" fill="#e21b22"/>
<circle cx="2480.1" cy="1493.1" r="13.6" fill="#e21b22"/>
<circle cx="2448.4" cy="1514.6" r="13.6" fill="#67b22f"/>
<circle cx="2103.0" cy="1534.2" r="13.6" fill="#e21b22"/>
<circle cx="2190.6" cy="1514.6" r="13.6" fill="#e21b22"/>
<circle cx="2296.6" cy="1514.6" r="13.6" fill="#67b22f"/>
<circle cx="2283.4" cy="1537.3" r="13.6" fill="#eee00a"/>
<circle cx="2272.6" cy="1549.6" r="13.6" fill="#67b22f"/>
<circle cx="2230.5" cy="1544.4" r="13.6" fill="#e21b22"/>
<circle cx="2214.2" cy="1562.2" r="13.6" fill="#e21b22"/>
<circle cx="2103.0" cy="1588.0" r="13.6" fill="#67b22f"/>
<circle cx="2513.3" cy="1549.0" r="13.6" fill="#eee00a"/>
<circle cx="2502.5" cy="1541.3" r="13.6" fill="#e21b22"/>
<circle cx="2485.3" cy="1561.3" r="13.6" fill="#eee00a"/>
<circle cx="2357.1" cy="1571.4" r="13.6" fill="#67b22f"/>
<circle cx="2437.0" cy="1572.0" r="13.6" fill="#e21b22"/>
<circle cx="2258.8" cy="1587.4" r="13.6" fill="#22509e"/>
<circle cx="2190.6" cy="1585.9" r="13.6" fill="#e21b22"/>
<circle cx="2179.5" cy="1599.7" r="13.6" fill="#e21b22"/>
<circle cx="2218.9" cy="1592.0" r="13.6" fill="#e21b22"/>
<circle cx="2223.5" cy="1621.2" r="13.6" fill="#e21b22"/>
<circle cx="2225.6" cy="1608.9" r="13.6" fill="#22509e"/>
<circle cx="2477.6" cy="1582.8" r="13.6" fill="#67b22f"/>
<circle cx="2498.5" cy="1587.4" r="13.6" fill="#22509e"/>
<circle cx="2510.8" cy="1613.5" r="13.6" fill="#e21b22"/>
<circle cx="2505.6" cy="1605.8" r="13.6" fill="#67b22f"/>
<circle cx="2489.3" cy="1628.0" r="13.6" fill="#22509e"/>
<circle cx="2533.0" cy="1639.7" r="13.6" fill="#eee00a"/>
<circle cx="2291.1" cy="1599.7" r="13.6" fill="#e21b22"/>
<circle cx="2312.6" cy="1604.3" r="13.6" fill="#22509e"/>
<circle cx="2335.0" cy="1599.7" r="13.6" fill="#e21b22"/>
<circle cx="2314.1" cy="1621.2" r="13.6" fill="#e21b22"/>
<circle cx="2334.1" cy="1635.0" r="13.6" fill="#22509e"/>
<circle cx="2324.9" cy="1639.7" r="13.6" fill="#e21b22"/>
<circle cx="2311.0" cy="1641.2" r="13.6" fill="#e21b22"/>
<circle cx="2373.1" cy="1598.2" r="13.6" fill="#22509e"/>
<circle cx="2372.5" cy="1608.9" r="13.6" fill="#e21b22"/>
<circle cx="2414.0" cy="1592.0" r="13.6" fill="#67b22f"/>
<circle cx="2401.7" cy="1608.9" r="13.6" fill="#e21b22"/>
<circle cx="2421.7" cy="1605.8" r="13.6" fill="#22509e"/>
<circle cx="2427.8" cy="1599.7" r="13.6" fill="#e21b22"/>
<circle cx="2447.8" cy="1601.2" r="13.6" fill="#e21b22"/>
<circle cx="2467.8" cy="1605.8" r="13.6" fill="#e21b22"/>
<circle cx="2355.6" cy="1639.7" r="13.6" fill="#22509e"/>
<circle cx="2377.1" cy="1650.4" r="13.6" fill="#e21b22"/>
<circle cx="2403.2" cy="1634.4" r="13.6" fill="#22509e"/>
<circle cx="2426.3" cy="1632.0" r="13.6" fill="#e21b22"/>
<circle cx="2441.6" cy="1633.5" r="13.6" fill="#22509e"/>
<circle cx="2417.1" cy="1652.0" r="13.6" fill="#e21b22"/>
<circle cx="2131.3" cy="1639.7" r="13.6" fill="#22509e"/>
<circle cx="2149.7" cy="1630.4" r="13.6" fill="#22509e"/>
<circle cx="2139.0" cy="1642.7" r="13.6" fill="#e21b22"/>
<circle cx="2174.3" cy="1638.1" r="13.6" fill="#22509e"/>
<circle cx="2175.8" cy="1654.4" r="13.6" fill="#22509e"/>
<circle cx="2202.0" cy="1630.4" r="13.6" fill="#e21b22"/>
<circle cx="2205.0" cy="1641.2" r="13.6" fill="#22509e"/>
<circle cx="2246.5" cy="1659.6" r="13.6" fill="#22509e"/>
<circle cx="2246.5" cy="1650.4" r="13.6" fill="#e21b22"/>
<circle cx="2288.0" cy="1654.4" r="13.6" fill="#22509e"/>
<circle cx="2845.6" cy="1378.4" r="13.6" fill="#67b22f"/>
<circle cx="2839.5" cy="1401.5" r="13.6" fill="#eee00a"/>
<circle cx="2924.0" cy="1398.4" r="13.6" fill="#eee00a"/>
<circle cx="2942.4" cy="1390.7" r="13.6" fill="#67b22f"/>
<circle cx="2944.6" cy="1417.8" r="13.6" fill="#eee00a"/>
<circle cx="2999.3" cy="1390.7" r="13.6" fill="#eee00a"/>
<circle cx="3007.0" cy="1406.1" r="13.6" fill="#e21b22"/>
<circle cx="2904.9" cy="1433.8" r="13.6" fill="#eee00a"/>
<circle cx="2967.0" cy="1455.3" r="13.6" fill="#22509e"/>
<circle cx="3024.0" cy="1457.0" r="13.6" fill="#67b22f"/>
<circle cx="2560.4" cy="1455.3" r="13.6" fill="#67b22f"/>
<circle cx="2609.6" cy="1427.0" r="13.6" fill="#67b22f"/>
<circle cx="2682.7" cy="1431.3" r="13.6" fill="#eee00a"/>
<circle cx="2693.5" cy="1431.3" r="13.6" fill="#eee00a"/>
<circle cx="2682.7" cy="1455.3" r="13.6" fill="#e21b22"/>
<circle cx="2730.4" cy="1447.0" r="13.6" fill="#e21b22"/>
<circle cx="2719.6" cy="1454.7" r="13.6" fill="#eee00a"/>
<circle cx="2800.4" cy="1436.8" r="13.6" fill="#e21b22"/>
<circle cx="2800.4" cy="1455.3" r="13.6" fill="#e21b22"/>
<circle cx="2859.4" cy="1454.7" r="13.6" fill="#67b22f"/>
<circle cx="2879.4" cy="1478.3" r="13.6" fill="#e21b22"/>
<circle cx="2910.1" cy="1473.7" r="13.6" fill="#67b22f"/>
<circle cx="2925.5" cy="1478.3" r="13.6" fill="#67b22f"/>
<circle cx="2933.2" cy="1499.8" r="13.6" fill="#e21b22"/>
<circle cx="2937.8" cy="1514.6" r="13.6" fill="#67b22f"/>
<circle cx="3024.0" cy="1522.9" r="13.6" fill="#67b22f"/>
<circle cx="2593.0" cy="1490.6" r="13.6" fill="#e21b22"/>
<circle cx="2590.5" cy="1513.7" r="13.6" fill="#22509e"/>
<circle cx="2616.6" cy="1514.6" r="13.6" fill="#e21b22"/>
<circle cx="2637.2" cy="1515.2" r="13.6" fill="#eee00a"/>
<circle cx="2664.3" cy="1515.2" r="13.6" fill="#67b22f"/>
<circle cx="2676.6" cy="1495.2" r="13.6" fill="#e21b22"/>
<circle cx="2695.0" cy="1498.3" r="13.6" fill="#eee00a"/>
<circle cx="2736.0" cy="1481.0" r="13.6" fill="#22509e"/>
<circle cx="2740.2" cy="1483.8" r="13.6" fill="#e21b22"/>
<circle cx="2755.0" cy="1489.1" r="13.6" fill="#67b22f"/>
<circle cx="2800.4" cy="1509.0" r="13.6" fill="#67b22f"/>
<circle cx="2814.9" cy="1515.2" r="13.6" fill="#eee00a"/>
<circle cx="2586.8" cy="1534.6" r="13.6" fill="#e21b22"/>
<circle cx="2609.0" cy="1542.9" r="13.6" fill="#67b22f"/>
<circle cx="2635.7" cy="1549.0" r="13.6" fill="#22509e"/>
<circle cx="2629.0" cy="1575.1" r="13.6" fill="#22509e"/>
<circle cx="2665.8" cy="1567.4" r="13.6" fill="#e21b22"/>
<circle cx="2687.3" cy="1556.7" r="13.6" fill="#22509e"/>
<circle cx="2703.6" cy="1533.6" r="13.6" fill="#67b22f"/>
<circle cx="2738.0" cy="1535.2" r="13.6" fill="#eee00a"/>
<circle cx="2722.7" cy="1533.6" r="13.6" fill="#eee00a"/>
<circle cx="2759.6" cy="1542.2" r="13.6" fill="#67b22f"/>
<circle cx="2798.9" cy="1549.6" r="13.6" fill="#e21b22"/>
<circle cx="2843.5" cy="1565.3" r="13.6" fill="#67b22f"/>
<circle cx="2884.0" cy="1549.0" r="13.6" fill="#67b22f"/>
<circle cx="2925.5" cy="1559.1" r="13.6" fill="#67b22f"/>
<circle cx="2940.9" cy="1553.6" r="13.6" fill="#67b22f"/>
<circle cx="2950.1" cy="1572.0" r="13.6" fill="#67b22f"/>
<circle cx="3006.9" cy="1561.3" r="13.6" fill="#67b22f"/>
<circle cx="2596.7" cy="1593.6" r="13.6" fill="#67b22f"/>
<circle cx="2579.8" cy="1587.4" r="13.6" fill="#22509e"/>
<circle cx="2553.7" cy="1599.7" r="13.6" fill="#67b22f"/>
<circle cx="2555.2" cy="1616.6" r="13.6" fill="#67b22f"/>
<circle cx="2599.8" cy="1608.9" r="13.6" fill="#e21b22"/>
<circle cx="2641.2" cy="1622.8" r="13.6" fill="#67b22f"/>
<circle cx="2681.2" cy="1585.9" r="13.6" fill="#67b22f"/>
<circle cx="2688.0" cy="1605.8" r="13.6" fill="#67b22f"/>
<circle cx="2723.6" cy="1599.1" r="13.6" fill="#67b22f"/>
<circle cx="2724.2" cy="1619.7" r="13.6" fill="#e21b22"/>
<circle cx="2814.9" cy="1599.7" r="13.6" fill="#67b22f"/>
<circle cx="2821.0" cy="1638.1" r="13.6" fill="#67b22f"/>
<circle cx="2905.5" cy="1599.7" r="13.6" fill="#67b22f"/>
<circle cx="2985.0" cy="1599.7" r="13.6" fill="#22509e"/>
<circle cx="2983.0" cy="1599.7" r="13.6" fill="#67b22f"/>
<circle cx="2564.4" cy="1652.0" r="13.6" fill="#67b22f"/>
<circle cx="2611.4" cy="1641.2" r="13.6" fill="#67b22f"/>
<circle cx="3124.3" cy="1404.6" r="13.6" fill="#eee00a"/>
<circle cx="3307.8" cy="1391.3" r="13.6" fill="#67b22f"/>
<circle cx="3095.1" cy="1444.5" r="13.6" fill="#67b22f"/>
<circle cx="3101.3" cy="1455.3" r="13.6" fill="#67b22f"/>
<circle cx="3119.7" cy="1454.7" r="13.6" fill="#e21b22"/>
<circle cx="3052.1" cy="1478.3" r="13.6" fill="#eee00a"/>
<circle cx="3068.4" cy="1467.6" r="13.6" fill="#e21b22"/>
<circle cx="3093.6" cy="1474.3" r="13.6" fill="#67b22f"/>
<circle cx="3136.6" cy="1470.6" r="13.6" fill="#67b22f"/>
<circle cx="3050.0" cy="1496.8" r="13.6" fill="#67b22f"/>
<circle cx="3173.5" cy="1442.4" r="13.6" fill="#67b22f"/>
<circle cx="3178.1" cy="1436.8" r="13.6" fill="#67b22f"/>
<circle cx="3273.4" cy="1436.8" r="13.6" fill="#67b22f"/>
<circle cx="3300.1" cy="1435.6" r="13.6" fill="#67b22f"/>
<circle cx="3350.2" cy="1432.2" r="13.6" fill="#67b22f"/>
<circle cx="3368.0" cy="1459.0" r="13.6" fill="#e21b22"/>
<circle cx="3274.3" cy="1467.6" r="13.6" fill="#67b22f"/>
<circle cx="3156.0" cy="1498.9" r="13.6" fill="#67b22f"/>
<circle cx="3190.4" cy="1505.4" r="13.6" fill="#67b22f"/>
<circle cx="3080.7" cy="1514.6" r="13.6" fill="#67b22f"/>
<circle cx="3276.4" cy="1534.2" r="13.6" fill="#67b22f"/>
<circle cx="3136.6" cy="1549.0" r="13.6" fill="#67b22f"/>
<circle cx="3022.9" cy="1554.5" r="13.6" fill="#67b22f"/>
<circle cx="3301.6" cy="1588.0" r="13.6" fill="#67b22f"/>
<circle cx="3042.0" cy="1608.9" r="13.6" fill="#67b22f"/>
<circle cx="3166.4" cy="1651.5" r="13.6" fill="#67b22f"/>
<circle cx="2136.0" cy="1682.3" r="13.6" fill="#e21b22"/>
<circle cx="2146.0" cy="1682.3" r="13.6" fill="#e21b22"/>
<circle cx="2220.7" cy="1682.3" r="13.6" fill="#e21b22"/>
<circle cx="2234.7" cy="1682.3" r="13.6" fill="#e21b22"/>
<circle cx="2383.7" cy="1682.3" r="13.6" fill="#e21b22"/>
<circle cx="2390.2" cy="1682.3" r="13.6" fill="#67b22f"/>
<circle cx="2452.7" cy="1682.3" r="13.6" fill="#67b22f"/>
<circle cx="2482.5" cy="1682.3" r="13.6" fill="#67b22f"/>
<circle cx="2564.3" cy="1682.3" r="13.6" fill="#e21b22"/>
<circle cx="2595.1" cy="1682.3" r="13.6" fill="#e21b22"/>
<circle cx="2124.7" cy="1682.3" r="13.6" fill="#22509e"/>
<circle cx="2143.4" cy="1682.3" r="13.6" fill="#22509e"/>
<circle cx="2160.1" cy="1682.3" r="13.6" fill="#22509e"/>
<circle cx="2176.9" cy="1682.3" r="13.6" fill="#22509e"/>
<circle cx="2191.2" cy="1682.3" r="13.6" fill="#22509e"/>
<circle cx="2204.8" cy="1682.3" r="13.6" fill="#22509e"/>
<circle cx="2249.2" cy="1682.3" r="13.6" fill="#22509e"/>
<circle cx="2262.6" cy="1682.3" r="13.6" fill="#22509e"/>
<circle cx="2287.8" cy="1682.3" r="13.6" fill="#22509e"/>
<circle cx="2303.6" cy="1682.3" r="13.6" fill="#22509e"/>
<circle cx="2326.0" cy="1682.3" r="13.6" fill="#22509e"/>
<circle cx="2102.7" cy="1682.3" r="13.6" fill="#22509e"/>
<circle cx="2342.7" cy="1682.3" r="13.6" fill="#e21b22"/>
<circle cx="2367.9" cy="1682.3" r="13.6" fill="#22509e"/>
<circle cx="2400.5" cy="1682.3" r="13.6" fill="#67b22f"/>
<circle cx="2415.4" cy="1682.3" r="13.6" fill="#67b22f"/>
<circle cx="2437.7" cy="1682.3" r="13.6" fill="#67b22f"/>
<circle cx="2466.6" cy="1682.3" r="13.6" fill="#22509e"/>
<circle cx="2514.0" cy="1682.3" r="13.6" fill="#67b22f"/>
<circle cx="2499.0" cy="1682.3" r="13.6" fill="#e21b22"/>
<circle cx="2536.0" cy="1682.3" r="13.6" fill="#67b22f"/>
<circle cx="2549.5" cy="1682.3" r="13.6" fill="#e21b22"/>
<circle cx="2578.4" cy="1682.3" r="13.6" fill="#67b22f"/>
<circle cx="2610.5" cy="1682.3" r="13.6" fill="#67b22f"/>
<circle cx="2640.7" cy="1682.3" r="13.6" fill="#67b22f"/>
<circle cx="2660.9" cy="1682.3" r="13.6" fill="#22509e"/>
<circle cx="2704.0" cy="1682.3" r="13.6" fill="#67b22f"/>
<circle cx="2727.0" cy="1682.3" r="13.6" fill="#67b22f"/>
<circle cx="2777.0" cy="1682.3" r="13.6" fill="#e21b22"/>
<circle cx="2803.9" cy="1682.3" r="13.6" fill="#67b22f"/>
<circle cx="2824.4" cy="1682.3" r="13.6" fill="#67b22f"/>
<circle cx="2814.1" cy="1682.3" r="13.6" fill="#e21b22"/>
<circle cx="2856.0" cy="1682.3" r="13.6" fill="#67b22f"/>
<circle cx="2851.3" cy="1682.3" r="13.6" fill="#eee00a"/>
<circle cx="2910.5" cy="1682.3" r="13.6" fill="#67b22f"/>
<circle cx="2905.1" cy="1682.3" r="13.6" fill="#67b22f"/>
<circle cx="3008.0" cy="1682.3" r="13.6" fill="#67b22f"/>
<circle cx="3014.0" cy="1682.3" r="13.6" fill="#e21b22"/>
<circle cx="3021.7" cy="1682.3" r="13.6" fill="#e21b22"/>
<circle cx="3066.5" cy="1682.3" r="13.6" fill="#eee00a"/>
<circle cx="3120.3" cy="1682.3" r="13.6" fill="#67b22f"/>
<circle cx="3171.6" cy="1682.3" r="13.6" fill="#67b22f"/>
</g>
<rect x="2038" y="254" width="1466" height="1495" fill="none" stroke="#333333" stroke-width="4"/>
<line x1="2190.80" y1="1751" x2="2190.80" y2="1770" stroke="#333333" stroke-width="7.3"/>
<text x="2188.30" y="1828.7"  font-size="62" fill="#4d4d4d" text-anchor="middle">4.0</text>
<line x1="2541.45" y1="1751" x2="2541.45" y2="1770" stroke="#333333" stroke-width="7.3"/>
<text x="2538.95" y="1828.7"  font-size="62" fill="#4d4d4d" text-anchor="middle">4.5</text>
<line x1="2892.10" y1="1751" x2="2892.10" y2="1770" stroke="#333333" stroke-width="7.3"/>
<text x="2889.60" y="1828.7"  font-size="62" fill="#4d4d4d" text-anchor="middle">5.0</text>
<line x1="3242.75" y1="1751" x2="3242.75" y2="1770" stroke="#333333" stroke-width="7.3"/>
<text x="3240.25" y="1828.7"  font-size="62" fill="#4d4d4d" text-anchor="middle">5.5</text>
<line x1="2015.5" y1="1588.30" x2="2036" y2="1588.30" stroke="#333333" stroke-width="7.1"/>
<text transform="translate(1915.66,1609.90) scale(0.9770,1)"  font-size="62" fill="#4d4d4d" >4.0</text>
<line x1="2015.5" y1="1210.60" x2="2036" y2="1210.60" stroke="#333333" stroke-width="7.1"/>
<text transform="translate(1915.85,1232.20) scale(0.9770,1)"  font-size="62" fill="#4d4d4d" >4.5</text>
<line x1="2015.5" y1="832.90" x2="2036" y2="832.90" stroke="#333333" stroke-width="7.1"/>
<text transform="translate(1915.66,854.50) scale(0.9770,1)"  font-size="62" fill="#4d4d4d" >5.0</text>
<line x1="2015.5" y1="455.20" x2="2036" y2="455.20" stroke="#333333" stroke-width="7.1"/>
<text transform="translate(1915.85,476.80) scale(0.9770,1)"  font-size="62" fill="#4d4d4d" >5.5</text>
<text x="2548.80" y="1916.1"  font-size="76" fill="#000000">log</text>
<text x="2650.90" y="1929.7"  font-size="54" fill="#000000">10</text>
<text transform="translate(2709.73,1916.10) scale(1.0132,1)"  font-size="76" fill="#000000" >(diatom)</text>
<g transform="translate(1864.7,1327.4) rotate(-90)">
<text x="-5.1" y="0"  font-size="76" fill="#000000">log</text>
<text x="97" y="13.4"  font-size="54" fill="#000000">10</text>
<text transform="translate(155.96,0.00) scale(1.0065,1)"  font-size="76" fill="#000000" >(dinoflagellate)</text>
</g>
<text transform="translate(337.33,81.20) scale(0.9182,1)"  font-size="95" fill="#000000" >Assessment:</text>
<text transform="translate(850.98,81.20) scale(0.9534,1)"  font-size="95" fill="#000000" >Channel</text>
<text transform="translate(1213.09,81.20) scale(0.9847,1)"  font-size="95" fill="#000000" >well</text>
<text transform="translate(1396.83,81.20) scale(0.9833,1)"  font-size="95" fill="#000000" >mixed</text>
<text transform="translate(668.09,198.40) scale(0.8079,1)"  font-size="95" fill="#000000" >CPR</text>
<text transform="translate(850.52,198.40) scale(0.9310,1)"  font-size="95" fill="#000000" >(2015-2019)</text>
<text transform="translate(2106.24,81.20) scale(0.9627,1)"  font-size="95" fill="#000000" >Comparison:</text>
<text transform="translate(2639.90,81.20) scale(0.9496,1)"  font-size="95" fill="#000000" >Channel</text>
<text transform="translate(3000.79,81.20) scale(0.9847,1)"  font-size="95" fill="#000000" >well</text>
<text transform="translate(3184.22,81.20) scale(0.9850,1)"  font-size="95" fill="#000000" >mixed</text>
<text transform="translate(2437.99,198.40) scale(0.8079,1)"  font-size="95" fill="#000000" >CPR</text>
<text transform="translate(2620.52,198.40) scale(0.9308,1)"  font-size="95" fill="#000000" >(1960-2014)</text>
<rect x="1342.2" y="235.7" width="437.8" height="197.8" fill="#ffffff" stroke="#000000" stroke-width="3.4"/>
<text x="1350.5" y="306.3"  font-size="83.5" fill="#000000">PI: 0.90</text>
<text x="1350.5" y="406.3"  font-size="83.5" fill="#000000">Points: 60</text>
<rect x="3173.2" y="236.3" width="623.5" height="394.7" fill="#ffffff" stroke="#000000" stroke-width="3.4"/>
<text x="3180.6" y="306.4"  font-size="83.5" fill="#000000">PI: 0.7</text>
<text x="3180.6" y="405.7"  font-size="83.5" fill="#000000">Points: 660</text>
<text x="3180.6" y="506.3"  font-size="83.5" fill="#000000">Binom p: 0.0000</text>
<text x="3183.2" y="606.3"  font-size="83.5" fill="#000000">Chi-sq: 293.3</text>
<circle cx="3566" cy="894.60" r="13.6" fill="#22509e" stroke="#050608" stroke-width="4.8"/>
<text transform="translate(3596.96,910.90) scale(0.9943,1)"  font-size="61.5" fill="#000000" >months: 1 2 12</text>
<circle cx="3566" cy="973.75" r="13.6" fill="#67b22f" stroke="#050608" stroke-width="4.8"/>
<text transform="translate(3596.96,990.05) scale(0.9948,1)"  font-size="61.5" fill="#000000" >months: 3 4 5</text>
<circle cx="3566" cy="1052.90" r="13.6" fill="#eee00a" stroke="#050608" stroke-width="4.8"/>
<text transform="translate(3596.96,1069.20) scale(0.9950,1)"  font-size="61.5" fill="#000000" >months: 6 7 8</text>
<circle cx="3566" cy="1132.05" r="13.6" fill="#e21b22" stroke="#050608" stroke-width="4.8"/>
<text transform="translate(3597.03,1148.35) scale(0.9772,1)"  font-size="61.5" fill="#000000" >months: 9 10 11</text>
</svg>
</body></html>
